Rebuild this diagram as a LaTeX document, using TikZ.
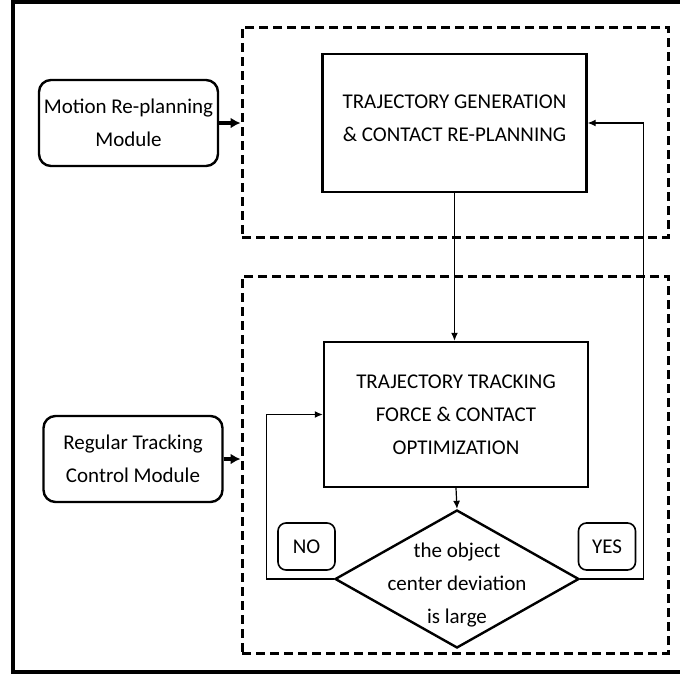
\documentclass[tikz,border=0pt]{standalone}
\usepackage{fontspec}
\setmainfont{Carlito}
\usetikzlibrary{shapes.geometric,arrows.meta}

\begin{document}
\begin{tikzpicture}[x=0.5pt,y=-0.5pt,
	every node/.style={font=\fontsize{10.5}{16.5}\selectfont,align=center,inner sep=0pt},
	module/.style={draw,line width=1.2pt,rounded corners=6pt,minimum width=89.5pt,minimum height=43pt},
	block/.style={draw,line width=1.2pt,minimum width=132pt},
	groupbox/.style={draw,dash pattern=on 4.5pt off 2.5pt,line width=1.5pt,minimum width=213pt},
	answer/.style={draw,line width=0.8pt,rounded corners=4pt,minimum width=28.5pt,minimum height=23.5pt},
	flowarrow/.style={line width=0.6pt,-{Latex[length=4pt,width=3.5pt]}},
	modarrow/.style={line width=1.8pt,-{Latex[length=5pt,width=5.5pt]}}]
					\clip (0,0) rectangle (680,675);
					\draw[line width=2.2pt] (13,2) rectangle (700,672);
					\node[groupbox,minimum height=105pt] (topgrp) at (455,132) {};
					\node[groupbox,minimum height=188.5pt] (botgrp) at (455,464.5) {};
					\node[module] (motion) at (128.5,123) {Motion Re-planning\\Module};
					\node[module] (regular) at (133,459) {Regular Tracking\\Control Module};
					\node[block,minimum height=69pt] (gen) at (454.5,123) {};
					\node (gentxt) at ([yshift=2.5pt]gen.center) {TRAJECTORY GENERATION\\\& CONTACT RE-PLANNING};
					\node[block,minimum height=72.5pt] (track) at (456,414.5) {TRAJECTORY TRACKING\\FORCE \& CONTACT\\OPTIMIZATION};
					\node[diamond,draw,line width=1.2pt,minimum width=122pt,minimum height=69pt] (decide) at (457,579) {};
					\node (decidetxt) at ([yshift=-3pt]decide.center) {the object\\center deviation\\is large};
					\node[answer] (no) at (306.5,546.5) {NO};
					\node[answer] (yes) at (607,546.5) {YES};
					\draw[modarrow] (motion.east) -- (motion.east -| topgrp.west);
					\draw[modarrow] (regular.east) -- (regular.east -| botgrp.west);
					\draw[flowarrow] (gen.south) -- (gen.south |- track.north);
					\draw[flowarrow] (track.south) -- (decide.north);
					\draw[flowarrow] (decide.west) -- ++(-67,0) |- (track.west);
					\draw[flowarrow] (decide.east) -- ++(63,0) |- (gen.east);
				\end{tikzpicture}
\end{document}
